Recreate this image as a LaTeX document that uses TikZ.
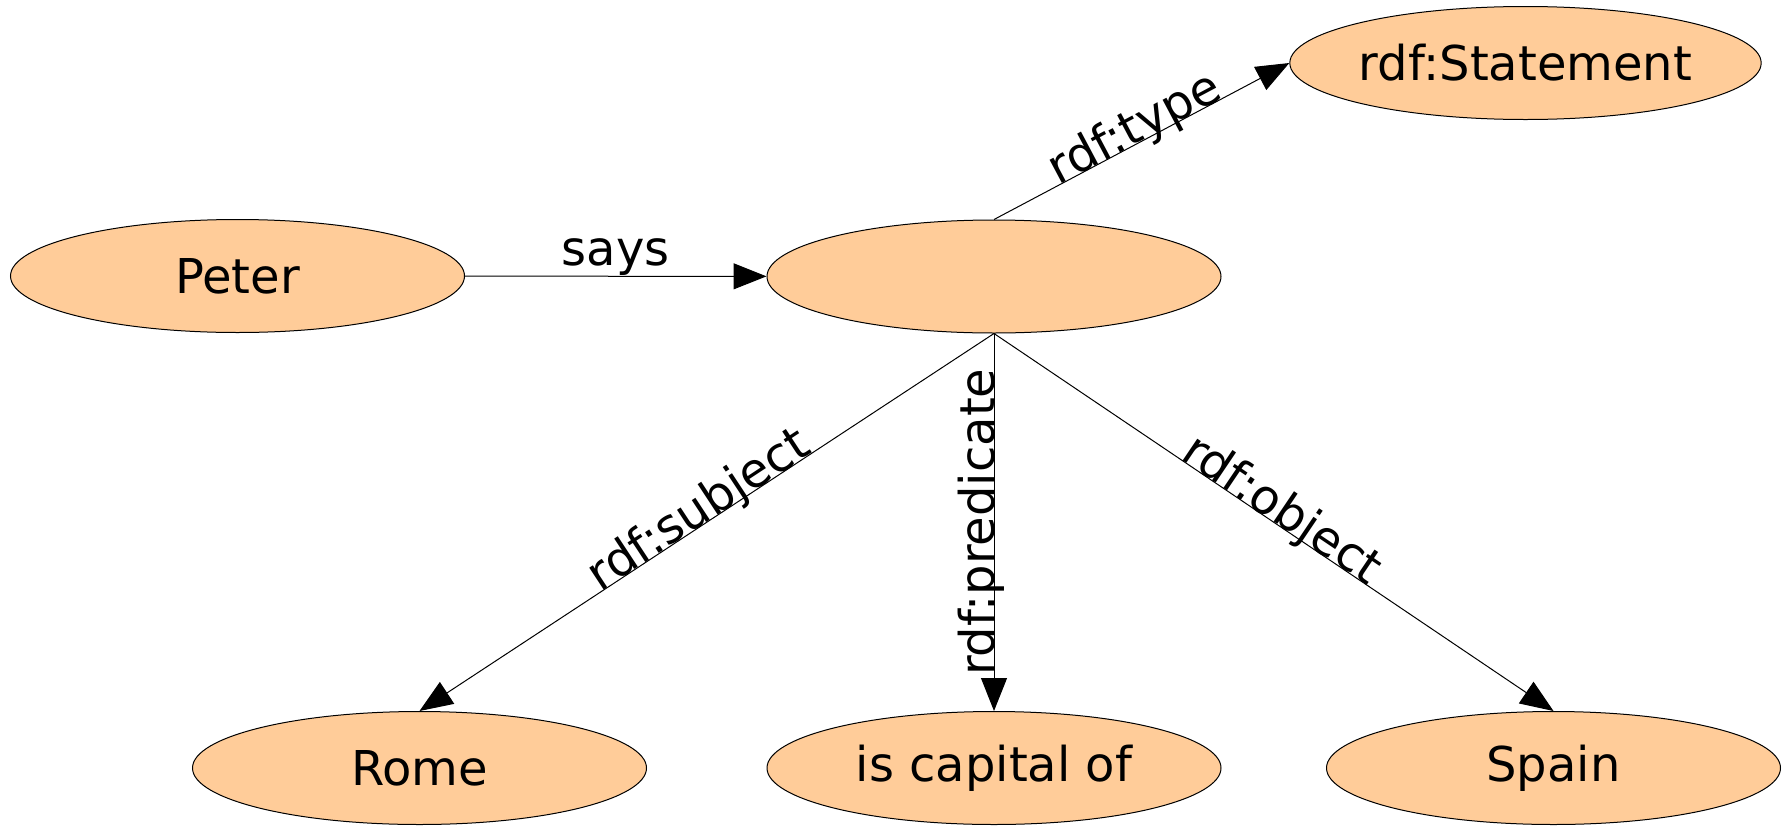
\documentclass[tikz,border=0pt]{standalone}
\usepackage{fontspec}
\setmainfont{DejaVu Sans}
\usetikzlibrary{shapes.geometric,arrows.meta}
\definecolor{rdfnode}{RGB}{255,204,153}

\begin{document}
\begin{tikzpicture}[x=1pt,y=-1pt,line width=1pt,font=\fontsize{48}{58}\selectfont]

        \useasboundingbox (0,0) rectangle (1789,825);

        \begin{scope}[every node/.style={ellipse,draw,fill=rdfnode,minimum width=454pt,minimum height=113pt,inner sep=0pt}]
          \node (peter)   at (237.5,276) {Peter};
          \node (stmt)    at (994,276.5) {};
          \node (type)    at (1525.5,63) {rdf:Statement};
          \node (rome)    at (419.5,768) {Rome};
          \node (capital) at (994,768)   {is capital of};
          \node (spain)   at (1553.5,768) {Spain};
        \end{scope}

        \begin{scope}[every node/.style={inner sep=0pt}]

          \begin{scope}[every edge/.style={draw,-{Triangle[length=33pt,width=26pt]}}]
            \path (peter)        edge node[above] {says} (stmt);
            \path (stmt.north)   edge node[sloped,anchor=base] {rdf:type} (type.west);
            \path (stmt.south)   edge node[sloped,anchor=base] {rdf:subject} (rome.north);
            \path (stmt.south)   edge node[rotate=90,anchor=base] {rdf:predicate} (capital.north);
            \path (stmt.south)   edge node[sloped,anchor=base] {rdf:object} (spain.north);
          \end{scope}
        \end{scope}

      \end{tikzpicture}
\end{document}
